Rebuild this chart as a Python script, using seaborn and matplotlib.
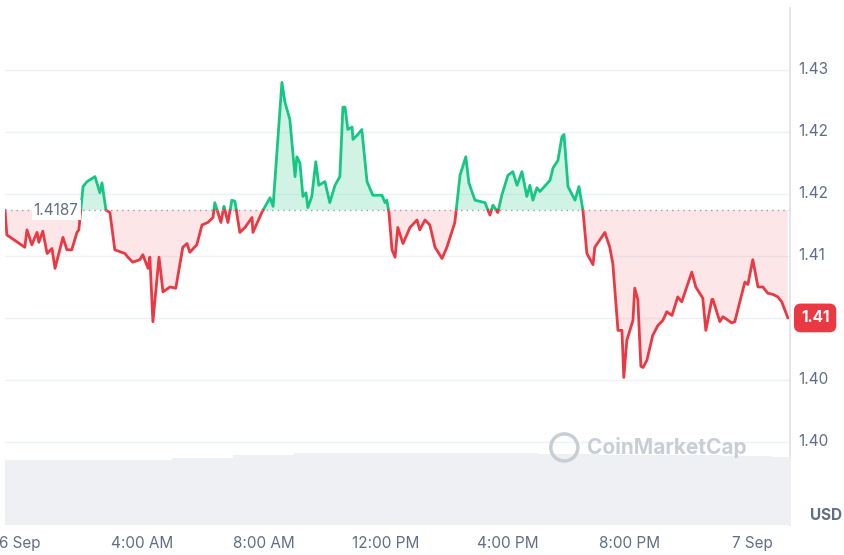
import numpy as np
import pandas as pd
import matplotlib.pyplot as plt
import seaborn as sns

# hours since 6 Sep 00:00, price in USD
hours = [-0.49, -0.43, 0.16, 0.23, 0.39, 0.56, 0.62, 0.75, 0.89, 1.05, 1.15, 1.41, 1.54, 1.70, 1.87, 1.93,
         2.07, 2.20, 2.46, 2.62, 2.69, 2.82, 2.95, 3.11, 3.44, 3.54, 3.70, 3.93, 4.03, 4.20, 4.26, 4.36,
         4.56, 4.69, 4.92, 5.11, 5.34, 5.48, 5.57, 5.80, 5.97, 6.16, 6.33, 6.39, 6.59, 6.69, 6.82, 6.95,
         7.05, 7.21, 7.38, 7.61, 7.64, 7.93, 8.20, 8.30, 8.59, 8.69, 8.85, 9.02, 9.08, 9.18, 9.28, 9.38,
         9.44, 9.57, 9.70, 9.80, 10.00, 10.16, 10.33, 10.49, 10.59, 10.66, 10.75, 10.89, 10.92, 11.08,
         11.21, 11.38, 11.57, 11.87, 11.97, 12.03, 12.10, 12.20, 12.30, 12.39, 12.56, 12.79, 13.02, 13.11,
         13.28, 13.44, 13.61, 13.84, 14.00, 14.26, 14.43, 14.62, 14.72, 14.92, 15.25, 15.41, 15.51, 15.67,
         15.80, 16.00, 16.16, 16.30, 16.46, 16.62, 16.72, 16.82, 16.95, 17.05, 17.38, 17.48, 17.64, 17.77,
         17.84, 17.97, 18.20, 18.33, 18.46, 18.59, 18.79, 18.85, 19.18, 19.34, 19.44, 19.61, 19.74, 19.80,
         19.90, 20.10, 20.16, 20.26, 20.36, 20.43, 20.56, 20.75, 20.92, 21.08, 21.21, 21.38, 21.57, 21.70,
         22.03, 22.16, 22.39, 22.49, 22.69, 22.72, 22.95, 23.05, 23.34, 23.44, 23.77, 23.87, 24.03, 24.20,
         24.36, 24.52, 24.69, 24.85, 24.98, 25.18]
price = [1.4187, 1.4167, 1.4157, 1.4171, 1.4159, 1.4169, 1.4161, 1.4170, 1.4152, 1.4156, 1.4140, 1.4165,
         1.4155, 1.4155, 1.4169, 1.4171, 1.4206, 1.4210, 1.4214, 1.4201, 1.4209, 1.4187, 1.4185, 1.4155,
         1.4152, 1.4149, 1.4145, 1.4147, 1.4151, 1.4140, 1.4149, 1.4097, 1.4149, 1.4121, 1.4125, 1.4124,
         1.4157, 1.4160, 1.4153, 1.4159, 1.4175, 1.4177, 1.4181, 1.4193, 1.4177, 1.4190, 1.4177, 1.4195,
         1.4194, 1.4169, 1.4173, 1.4181, 1.4169, 1.4185, 1.4197, 1.4190, 1.4290, 1.4274, 1.4260, 1.4214,
         1.4230, 1.4225, 1.4198, 1.4201, 1.4189, 1.4198, 1.4226, 1.4207, 1.4210, 1.4193, 1.4207, 1.4214,
         1.4270, 1.4270, 1.4252, 1.4254, 1.4244, 1.4248, 1.4252, 1.4210, 1.4199, 1.4199, 1.4193, 1.4195,
         1.4185, 1.4155, 1.4149, 1.4173, 1.4160, 1.4173, 1.4179, 1.4171,
         1.4179, 1.4175, 1.4157, 1.4148, 1.4157, 1.4177, 1.4215, 1.4230, 1.4209, 1.4195, 1.4193, 1.4183,
         1.4191, 1.4185, 1.4199, 1.4215, 1.4218, 1.4207, 1.4218, 1.4198, 1.4207, 1.4195, 1.4205, 1.4202,
         1.4211, 1.4221, 1.4227, 1.4246, 1.4248, 1.4206, 1.4195, 1.4206, 1.4187, 1.4152, 1.4143, 1.4157,
         1.4169, 1.4157, 1.4144, 1.4090, 1.4090, 1.4052, 1.4082, 1.4098, 1.4124, 1.4115, 1.4061, 1.4060,
         1.4066, 1.4086, 1.4094, 1.4098, 1.4105, 1.4102, 1.4117, 1.4113, 1.4137, 1.4125, 1.4116, 1.4090,
         1.4115, 1.4115, 1.4097, 1.4101, 1.4096, 1.4097, 1.4129, 1.4127, 1.4147, 1.4125, 1.4125, 1.4120,
         1.4119, 1.4117, 1.4113, 1.4100]
ref_price = 1.4187
last_label = "1.41"

vol_hours = [-0.5, 2, 4, 6, 8, 10, 12, 14, 16, 18, 20, 22, 24, 25.3]
vol_level = [1.00, 1.00, 1.01, 1.04, 1.08, 1.11, 1.12, 1.12, 1.11, 1.10, 1.09, 1.08, 1.06, 1.05]

tick_vals = [1.400, 1.405, 1.410, 1.415, 1.420, 1.425, 1.430]
tick_text = ["1.40", "1.40", "", "1.41", "1.42", "1.42", "1.43"]
x_ticks = [0, 4, 8, 12, 16, 20, 24]
x_text = ["6 Sep", "4:00 AM", "8:00 AM", "12:00 PM", "4:00 PM", "8:00 PM", "7 Sep"]

n = min(len(hours), len(price))
df = pd.DataFrame({"h": hours[:n], "p": price[:n]})

GREEN = "#16c784"
RED = "#ea3943"
GRAY = "#616e85"

sns.set_theme(style="white")
plt.rcParams['font.family'] = ['Inter', 'DejaVu Sans']

fig = plt.figure(figsize=(8.44, 5.55), dpi=100)
ax = fig.add_axes([5 / 844, 30 / 555, 785 / 844, 517 / 555])
ax.set_xlim(-0.49, 25.25)
ax.set_ylim(1.3933, 1.435)

# volume band at bottom
vax = ax.twinx()
vax.set_ylim(0, 8)
vax.fill_between(vol_hours, 0, vol_level, color="#eef0f3", lw=0, step="mid")
vax.set_yticks([])
for s in vax.spines.values():
    s.set_visible(False)

# split line at reference crossings (rendering only)
hx, py = [], []
h_arr, p_arr = df["h"].values, df["p"].values
for i in range(len(h_arr)):
    if i > 0 and (p_arr[i - 1] - ref_price) * (p_arr[i] - ref_price) < 0:
        t = (ref_price - p_arr[i - 1]) / (p_arr[i] - p_arr[i - 1])
        hx.append(h_arr[i - 1] + t * (h_arr[i] - h_arr[i - 1]))
        py.append(ref_price)
    hx.append(h_arr[i])
    py.append(p_arr[i])
hx, py = np.array(hx), np.array(py)
up = np.where(py >= ref_price, py, np.nan)
dn = np.where(py <= ref_price, py, np.nan)

ax.fill_between(hx, ref_price, py, where=py >= ref_price, color=GREEN, alpha=0.2, lw=0)
ax.fill_between(hx, ref_price, py, where=py <= ref_price, color=RED, alpha=0.12, lw=0)
ax.plot(hx, up, color=GREEN, lw=2)
ax.plot(hx, dn, color=RED, lw=2)
ax.axhline(ref_price, color="#9aa0aa", lw=1, ls=(0, (1, 3)))

ax.set_yticks(tick_vals)
ax.yaxis.grid(True, color="#eff2f5", lw=1)
ax.set_yticklabels([])
ax.tick_params(left=False, bottom=False, labelbottom=False)
for s in ["top", "left", "bottom"]:
    ax.spines[s].set_visible(False)
ax.spines["right"].set_color("#e0e3e8")
ax.set_axisbelow(True)

for v, t in zip(tick_vals, tick_text):
    if t:
        ax.text(1.01, v, t, transform=ax.get_yaxis_transform(), color=GRAY,
                fontsize=11, va="center", ha="left")
fig.text(826 / 844, 1 - 515 / 555, "USD", color=GRAY, fontsize=11, ha="center", va="center",
         fontweight="bold")
for x, t in zip(x_ticks, x_text):
    ax.text(x, -0.035, t, transform=ax.get_xaxis_transform(), color=GRAY, fontsize=11,
            ha="center", va="center")

ax.text(0.45, ref_price, f"{ref_price:.4f}", color=GRAY, fontsize=11, va="center", ha="left",
        bbox=dict(facecolor="white", edgecolor="none", pad=1.5))
ax.text(1.032, price[n - 1], last_label, transform=ax.get_yaxis_transform(), color="white",
        fontsize=11, fontweight="bold", va="center", ha="center",
        bbox=dict(facecolor=RED, edgecolor="none", boxstyle="round,pad=0.45"))

# watermark above volume band
vax.text(21.2, 1.2, "CoinMarketCap", color="#c9ced6", fontsize=15, fontweight="bold",
         ha="center", va="center", transform=vax.transData, zorder=5)
vax.scatter([17.85], [1.2], s=380, facecolor="none", edgecolor="#c9ced6", lw=2.5, zorder=5)

fig.savefig("out.png", dpi=100)
